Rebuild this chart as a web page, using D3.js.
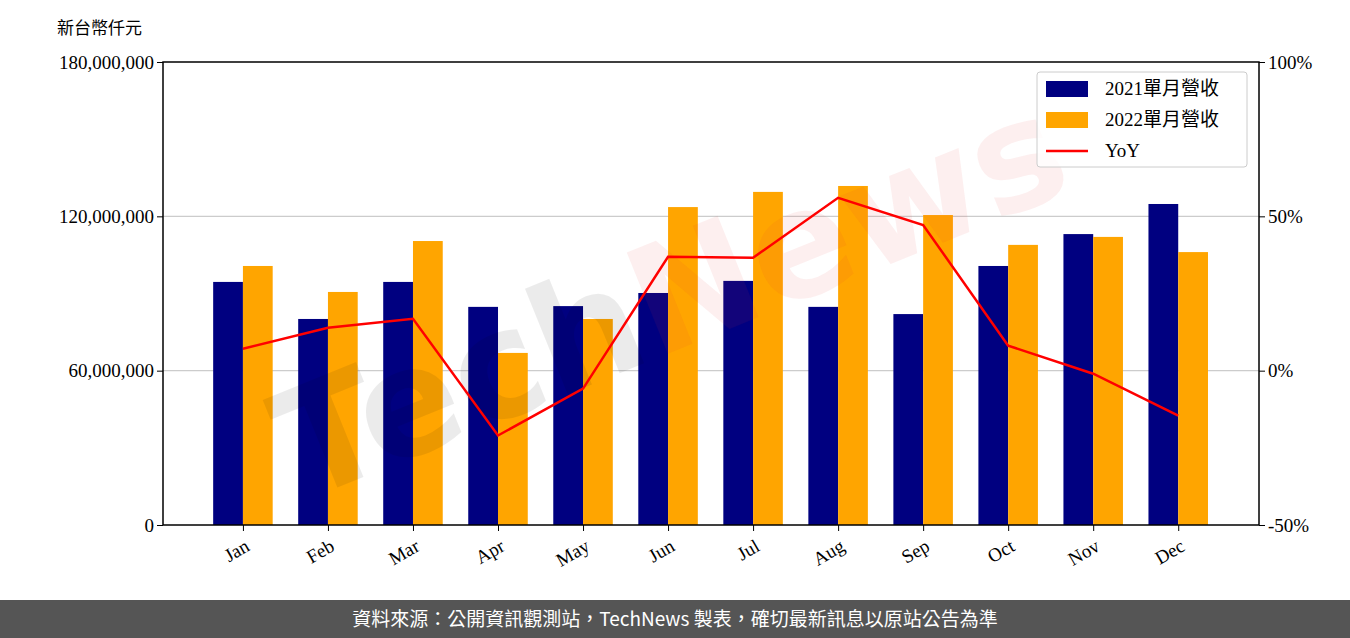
<!DOCTYPE html>
<html><head><meta charset="utf-8">
<script src="https://cdn.jsdelivr.net/npm/d3@7"></script>
<style>body{margin:0;background:#fff}svg{display:block}</style>
</head><body>
<script>
const months=["Jan","Feb","Mar","Apr","May","Jun","Jul","Aug","Sep","Oct","Nov","Dec"];
const rev2021=[94.5,80.1,94.5,84.8,85.1,90.2,94.9,84.8,82.0,100.7,113.1,124.8].map(v=>v*1e6);
const rev2022=[100.7,90.6,110.4,66.9,80.1,123.6,129.5,131.8,120.5,108.9,112.0,106.1].map(v=>v*1e6);
const yoy=[7.1,13.9,16.8,-21.0,-5.8,36.9,36.6,56.0,47.2,8.1,-1.0,-14.6];
const leftTicks=[0,60e6,120e6,180e6];
const rightTicks=[-50,0,50,100];

const W=1350,H=638,L=163,R=1259,T=62,B=525;
const svg=d3.select("body").append("svg").attr("width",W).attr("height",H);
const font="Liberation Serif, Noto Sans CJK TC, serif";
const x=d3.scaleLinear().domain([-0.94,11.95]).range([L,R]);
const y=d3.scaleLinear().domain([0,180e6]).range([B,T]);
const y2=d3.scaleLinear().domain([-50,100]).range([B,T]);
const bw=x(0.35)-x(0);

svg.append("g").selectAll("line").data([60e6,120e6]).join("line")
 .attr("x1",L).attr("x2",R).attr("y1",d=>y(d)).attr("y2",d=>y(d)).attr("stroke","#ccc").attr("stroke-width",1.2);

svg.append("g").selectAll("rect").data(rev2021).join("rect")
 .attr("x",(d,i)=>x(i)-bw).attr("width",bw).attr("y",d=>y(d)).attr("height",d=>B-y(d)).attr("fill","#000080");
svg.append("g").selectAll("rect").data(rev2022).join("rect")
 .attr("x",(d,i)=>x(i)).attr("width",bw).attr("y",d=>y(d)).attr("height",d=>B-y(d)).attr("fill","#FFA500");

// watermark
const wm=svg.append("text").attr("transform","translate(690,345) rotate(-22)").attr("text-anchor","middle")
 .attr("font-family","DejaVu Sans, sans-serif").attr("font-weight","bold").attr("font-size",150);
wm.append("tspan").attr("fill","#000").attr("fill-opacity",0.08).text("Tech");
wm.append("tspan").attr("fill","#e03030").attr("fill-opacity",0.08).text("News");

svg.append("path").datum(yoy).attr("fill","none").attr("stroke","red").attr("stroke-width",2.5)
 .attr("d",d3.line().x((d,i)=>x(i)).y(d=>y2(d)));

svg.append("rect").attr("x",L).attr("y",T).attr("width",R-L).attr("height",B-T).attr("fill","none").attr("stroke","#000").attr("stroke-width",1.5);

const ya=svg.append("g").attr("transform",`translate(${L},0)`)
 .call(d3.axisLeft(y).tickValues(leftTicks).tickFormat(d3.format(",")).tickSize(6));
const ya2=svg.append("g").attr("transform",`translate(${R},0)`)
 .call(d3.axisRight(y2).tickValues(rightTicks).tickFormat(d=>d+"%").tickSize(6));
const xa=svg.append("g").attr("transform",`translate(0,${B})`)
 .call(d3.axisBottom(x).tickValues(d3.range(12)).tickFormat(i=>months[i]).tickSize(6));
[ya,ya2,xa].forEach(a=>{a.select(".domain").remove();a.selectAll("text").attr("font-family",font).attr("font-size",19).attr("fill","#000");});
xa.selectAll("text").attr("text-anchor","end").attr("x",-6).attr("dx",0).attr("dy","0.8em").attr("y",10).attr("transform","rotate(-30)");

svg.append("text").attr("x",57).attr("y",34).attr("font-family","Noto Sans CJK TC, sans-serif").attr("font-size",17).text("新台幣仟元");

// legend
const lg=svg.append("g").attr("transform","translate(1037,72)");
lg.append("rect").attr("width",210).attr("height",95).attr("rx",3).attr("fill","#fff").attr("fill-opacity",0.8).attr("stroke","#ccc");
const items=[["2021單月營收","#000080","rect"],["2022單月營收","#FFA500","rect"],["YoY","red","line"]];
items.forEach((it,i)=>{
 const cy=17+i*31;
 if(it[2]==="rect") lg.append("rect").attr("x",9).attr("y",cy-8).attr("width",42).attr("height",16).attr("fill",it[1]);
 else lg.append("line").attr("x1",9).attr("x2",51).attr("y1",cy).attr("y2",cy).attr("stroke",it[1]).attr("stroke-width",2.5);
 lg.append("text").attr("x",68).attr("y",cy+6).attr("font-family",font).attr("font-size",19).text(it[0]);
});

svg.append("rect").attr("x",0).attr("y",600).attr("width",W).attr("height",38).attr("fill","#555");
svg.append("text").attr("x",W/2).attr("y",626).attr("text-anchor","middle").attr("fill","#fff")
 .attr("font-family","Noto Sans CJK TC, sans-serif").attr("font-size",19).text("資料來源：公開資訊觀測站，TechNews 製表，確切最新訊息以原站公告為準");
</script>
</body></html>
